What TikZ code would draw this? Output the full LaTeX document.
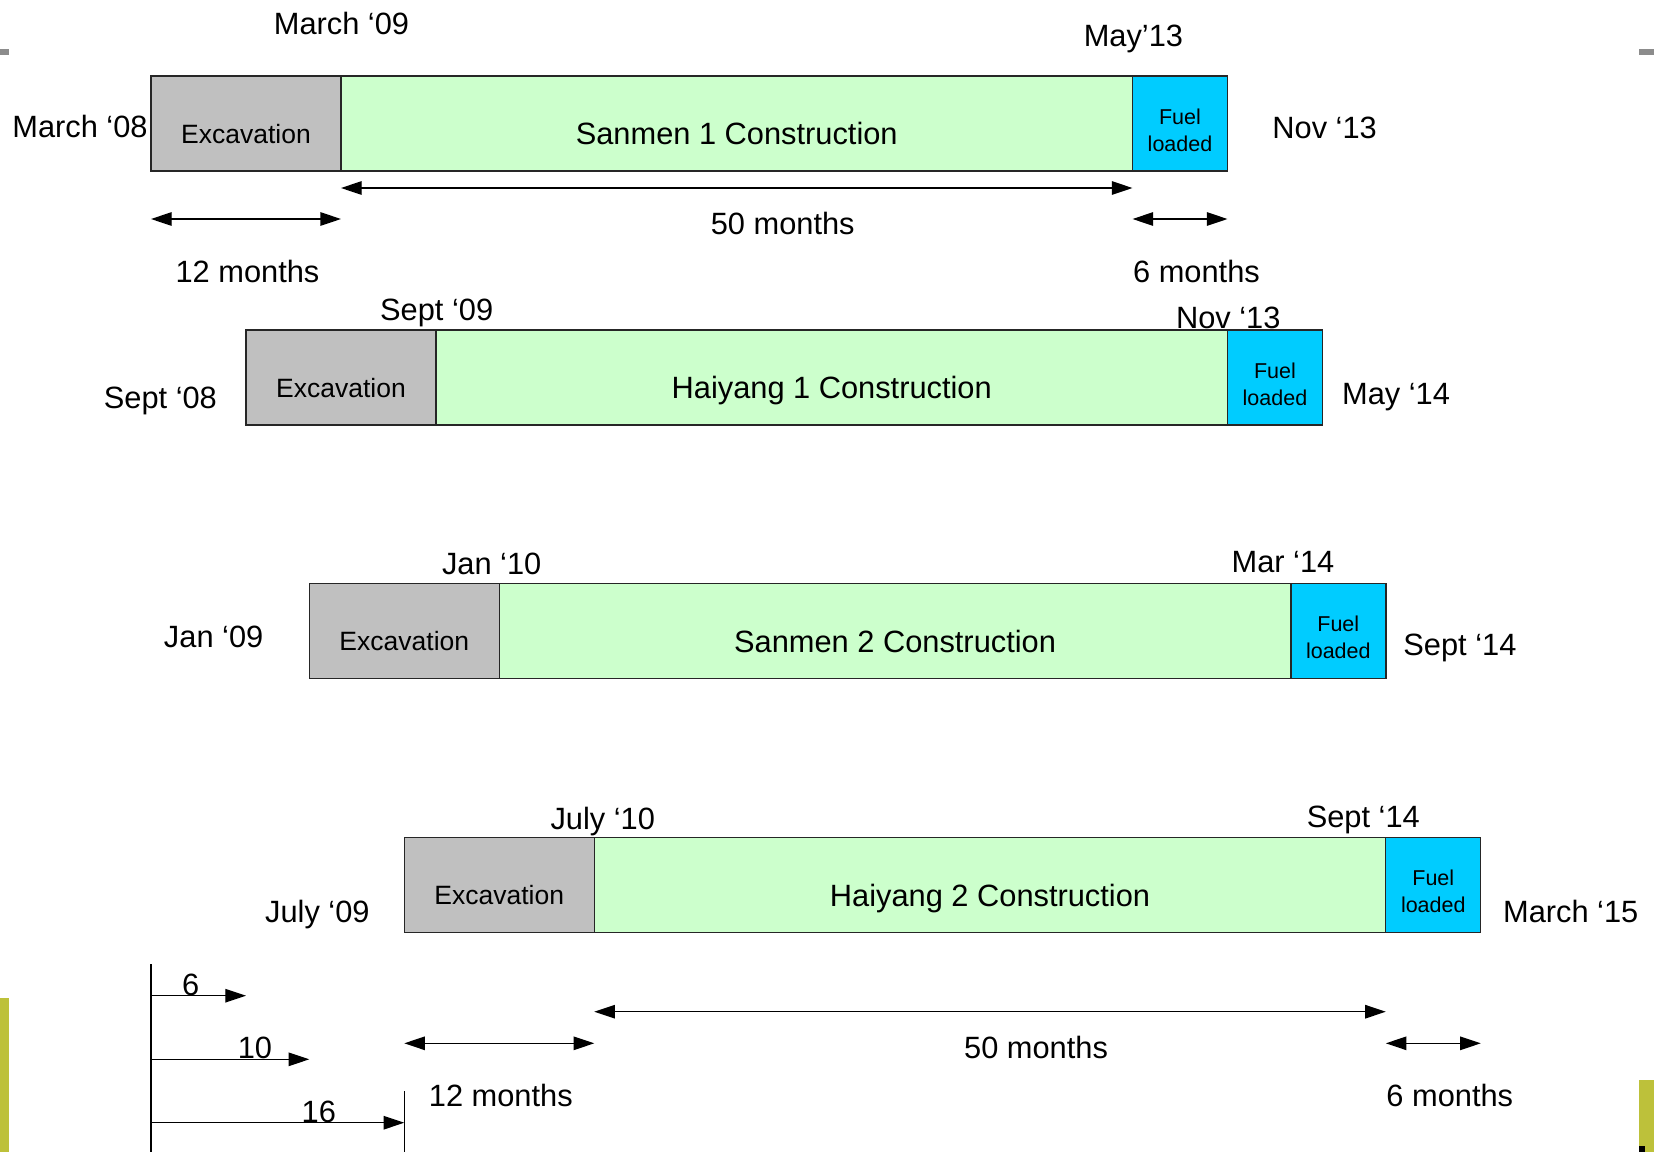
\documentclass[tikz,border=0pt]{standalone}
\usepackage{fontspec}
\setmainfont{Liberation Sans}
\usetikzlibrary{positioning,calc,arrows.meta}
\definecolor{exgray}{HTML}{C0C0C0}
\definecolor{cogreen}{HTML}{CCFFCC}
\definecolor{fublue}{HTML}{00CCFF}
\definecolor{bargray}{HTML}{8C8C8C}
\definecolor{leafgreen}{HTML}{BDC13A}
\tikzset{
  phase/.style={draw=black!85,line width=.7pt,minimum height=47.5pt,inner sep=0pt,outer sep=0pt,text depth=0pt},
  exbox/.style={phase,fill=exgray,minimum width=95pt,font=\fontsize{13.25}{16}\selectfont,text height=19.5pt},
  cobox/.style={phase,fill=cogreen,minimum width=395.75pt,font=\fontsize{15.4}{18}\selectfont,text height=21.1pt},
  fubox/.style={phase,fill=fublue,minimum width=47.5pt},
  fuellbl/.style={font=\fontsize{10.75}{13.35}\selectfont,align=center,inner sep=0pt,yshift=-3.25pt},
  datelbl/.style={font=\fontsize{15.4}{18}\selectfont,anchor=base,inner sep=0pt},
  dimarrow/.style={line width=.7pt,{Triangle[length=10.35pt,width=6.75pt]}-{Triangle[length=10.35pt,width=6.75pt]}},
  gaparrow/.style={line width=.7pt,-{Triangle[length=10.35pt,width=6.75pt]}},
  thinline/.style={line width=.7pt}
}
\begin{document}
\begin{tikzpicture}[x=.5pt,y=-.5pt]
\useasboundingbox (0,0) rectangle (1654,1152);
% slide edges
\fill[bargray] (0,49) rectangle (9,55);
\fill[bargray] (1639,49) rectangle (1654,55);
\fill[leafgreen] (0,998) rectangle (8.5,1152);
\fill[leafgreen] (1639,1080) rectangle (1654,1152);
\fill[black] (1639,1146) rectangle (1645,1152);
% one bar per unit: excavation, construction, fuel loading
\foreach \r/\s/\t/\nm in {1/0/76/Sanmen 1,2/6/330/Haiyang 1,3/10/583.4/Sanmen 2,4/16/837.4/Haiyang 2}{
  \node[exbox,anchor=north west] (ex\r) at (151+15.83*\s,\t) {Excavation};
  \node[cobox,right=0pt of ex\r] (co\r) {\nm\ Construction};
  \node[fubox,right=0pt of co\r,label={[fuellbl]center:Fuel\\loaded}] (fu\r) {};
}
% dates
\foreach \r/\x/\y/\v in {1/148/137.8/March ‘08,2/217.3/408/Sept ‘08,3/263.7/647/Jan ‘09,4/370/922.3/July ‘09}{\node[datelbl,anchor=base east] (lf\r) at (\x,\y){\v};}
\foreach \r/\x/\y/\v in {1/1272/138.1/Nov ‘13,2/1341.7/404.7/May ‘14,3/1403/655.5/Sept ‘14,4/1502.7/922.3/March ‘15}{\node[datelbl,anchor=base west] (rt\r) at (\x,\y){\v};}
\foreach \r/\x/\y/\v in {1/341.5/34.9/March ‘09,2/436.7/320/Sept ‘09,3/491.7/574.3/Jan ‘10,4/602.8/829.7/July ‘10}{\node[datelbl] (ts\r) at (\x,\y){\v};}
\foreach \r/\x/\y/\v in {1/1133.4/46.1/May’13,2/1228.3/328.3/Nov ‘13,3/1283/572.5/Mar ‘14,4/1363.3/827.7/Sept ‘14}{\node[datelbl] (te\r) at (\x,\y){\v};}
% durations under the first and last bar
\foreach \r/\da/\db/\ta/\tb in {1/17/48/63.7/111.8,4/79.3/110.9/126.1/174.3}{
  \draw[dimarrow] ($(co\r.south west)+(0,\da)$) -- ($(co\r.south east)+(0,\da)$);
  \draw[dimarrow] ($(ex\r.south west)+(0,\db)$) -- ($(ex\r.south east)+(0,\db)$);
  \draw[dimarrow] ($(fu\r.south west)+(0,\db)$) -- ($(fu\r.south east)+(0,\db)$);
  \node[datelbl] (mc\r) at ($(co\r.south)+(46,\ta)$) {50 months};
  \node[datelbl] (me\r) at ($(ex\r.south)+(1.5,\tb)$) {12 months};
  \node[datelbl] (mf\r) at ($(fu\r.south)+(16.5,\tb)$) {6 months};
}
% offsets of the later starts
\coordinate (gtop) at (151,964);
\coordinate (gbot) at (151,1152);
\draw[thinline] (gtop) -- (gbot);
\foreach \n/\y/\x/\v in {2/995.7/190.7/6,3/1059.3/255/10,4/1122.7/318.8/16}{\draw[gaparrow] (gtop |- 0,\y) -- (ex\n.west |- 0,\y);\node[datelbl] (gl\n) at (\x,\y-.5){\v};}
\draw[thinline] (ex4.west |- 0,1091) -- (ex4.west |- gbot);
\end{tikzpicture}
\end{document}
